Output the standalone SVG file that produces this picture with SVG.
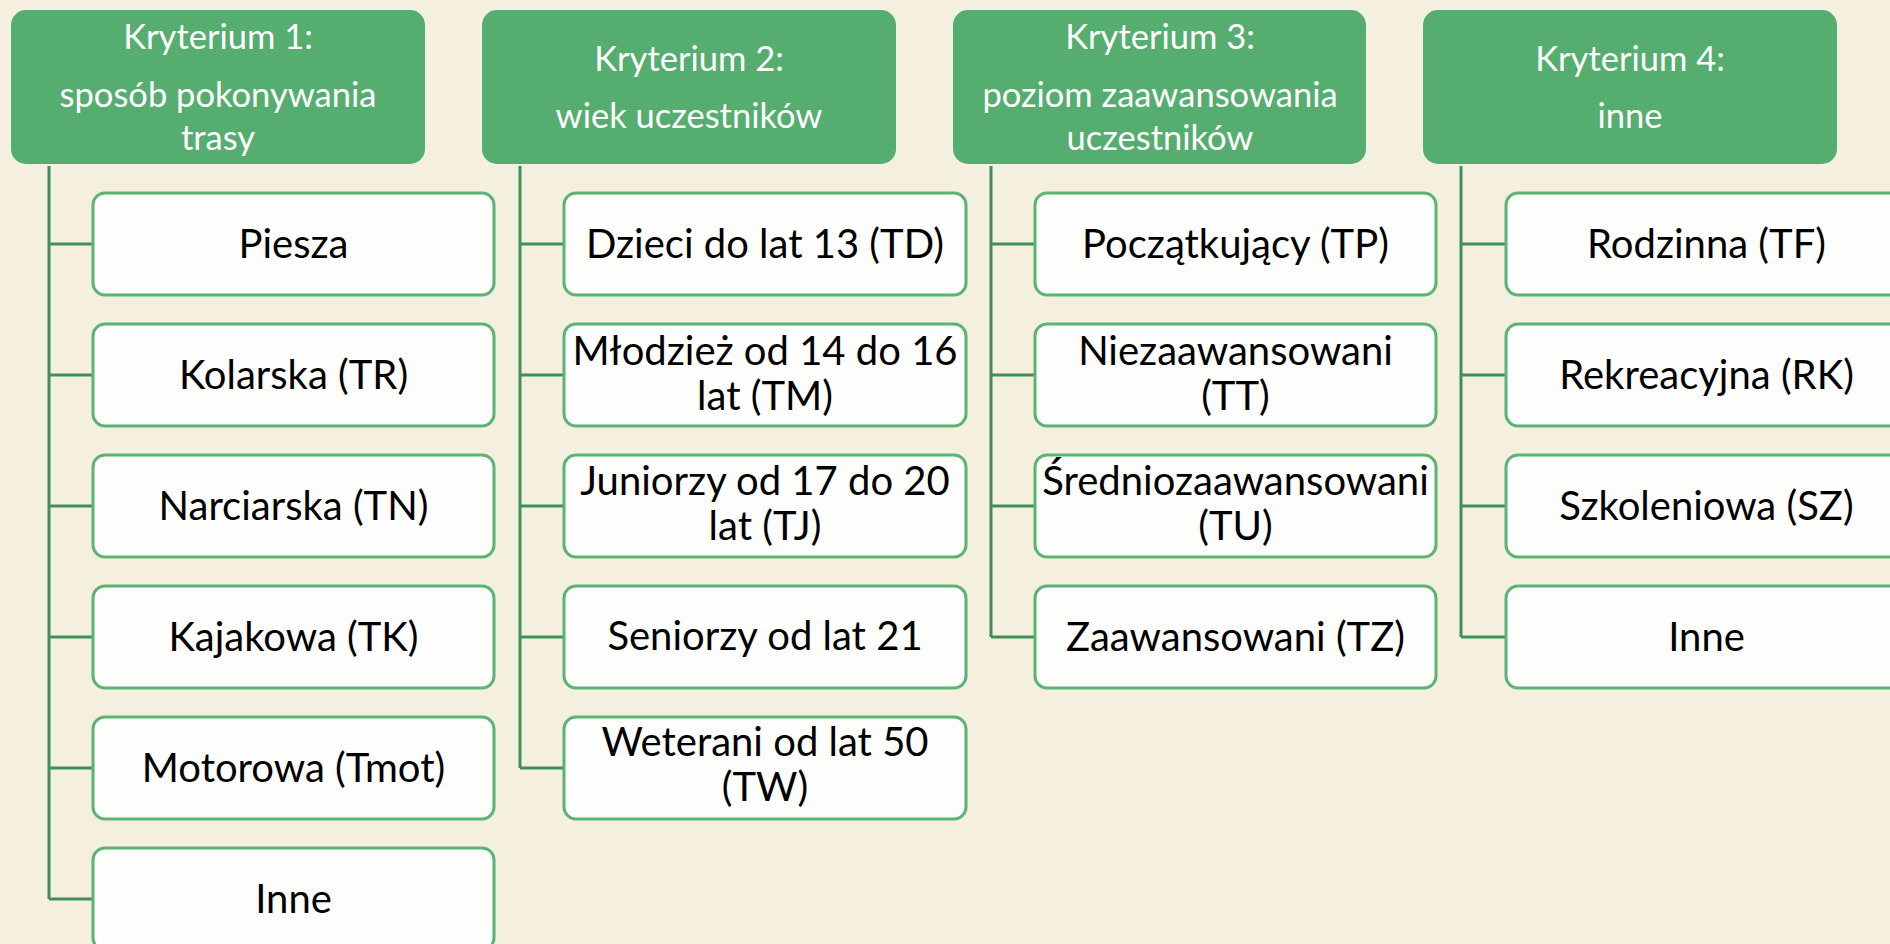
<svg xmlns="http://www.w3.org/2000/svg" width="1890" height="944" viewBox="0 0 1890 944">
<style>
.hd{fill:#55AE6F;stroke:#EEF3E6;stroke-width:2}
.ch{fill:#FDFDFB;stroke:#5BB474;stroke-width:3}
.ht{font-family:Lato,"Open Sans","DejaVu Sans",sans-serif;font-size:34.5px;fill:#FFFFFF;text-anchor:middle}
.ct{font-family:Lato,"Open Sans","DejaVu Sans",sans-serif;font-size:40px;fill:#000000;text-anchor:middle}
.cn{fill:none;stroke:#3F8F58;stroke-width:3}
</style>
<rect x="0" y="0" width="1890" height="944" fill="#F5EFDF"/>
<g id="connectors">
<path class="cn" d="M49 165V899M49 244H93M49 375H93M49 506H93M49 637H93M49 768H93M49 899H93"/>
<path class="cn" d="M520 165V768M520 244H564M520 375H564M520 506H564M520 637H564M520 768H564"/>
<path class="cn" d="M991 165V637M991 244H1035M991 375H1035M991 506H1035M991 637H1035"/>
<path class="cn" d="M1461 165V637M1461 244H1506M1461 375H1506M1461 506H1506M1461 637H1506"/>
</g>
<g id="h1"><rect class="hd" x="10" y="9" width="416" height="156" rx="16"/><text class="ht" x="218" y="49">Kryterium 1:</text><text class="ht" x="218" y="107">sposób pokonywania</text><text class="ht" x="218" y="150">trasy</text></g>
<g id="h2"><rect class="hd" x="481" y="9" width="416" height="156" rx="16"/><text class="ht" x="689" y="71">Kryterium 2:</text><text class="ht" x="689" y="128">wiek uczestników</text></g>
<g id="h3"><rect class="hd" x="952" y="9" width="415" height="156" rx="16"/><text class="ht" x="1160" y="49">Kryterium 3:</text><text class="ht" x="1160" y="107">poziom zaawansowania</text><text class="ht" x="1160" y="150">uczestników</text></g>
<g id="h4"><rect class="hd" x="1422" y="9" width="416" height="156" rx="16"/><text class="ht" x="1630" y="71">Kryterium 4:</text><text class="ht" x="1630" y="128">inne</text></g>

<g id="c1a"><rect class="ch" x="93" y="193" width="401" height="102" rx="12"/><text class="ct" x="293.5" y="258">Piesza</text></g>
<g id="c1b"><rect class="ch" x="93" y="324" width="401" height="102" rx="12"/><text class="ct" x="293.5" y="389">Kolarska (TR)</text></g>
<g id="c1c"><rect class="ch" x="93" y="455" width="401" height="102" rx="12"/><text class="ct" x="293.5" y="520">Narciarska (TN)</text></g>
<g id="c1d"><rect class="ch" x="93" y="586" width="401" height="102" rx="12"/><text class="ct" x="293.5" y="651">Kajakowa (TK)</text></g>
<g id="c1e"><rect class="ch" x="93" y="717" width="401" height="102" rx="12"/><text class="ct" x="293.5" y="782">Motorowa (Tmot)</text></g>
<g id="c1f"><rect class="ch" x="93" y="848" width="401" height="102" rx="12"/><text class="ct" x="293.5" y="913">Inne</text></g>

<g id="c2a"><rect class="ch" x="564" y="193" width="402" height="102" rx="12"/><text class="ct" x="765" y="258">Dzieci do lat 13 (TD)</text></g>
<g id="c2b"><rect class="ch" x="564" y="324" width="402" height="102" rx="12"/><text class="ct" x="765" y="365">Młodzież od 14 do 16</text><text class="ct" x="765" y="410">lat (TM)</text></g>
<g id="c2c"><rect class="ch" x="564" y="455" width="402" height="102" rx="12"/><text class="ct" x="765" y="495">Juniorzy od 17 do 20</text><text class="ct" x="765" y="540">lat (TJ)</text></g>
<g id="c2d"><rect class="ch" x="564" y="586" width="402" height="102" rx="12"/><text class="ct" x="765" y="650">Seniorzy od lat 21</text></g>
<g id="c2e"><rect class="ch" x="564" y="717" width="402" height="102" rx="12"/><text class="ct" x="765" y="756">Weterani od lat 50</text><text class="ct" x="765" y="801">(TW)</text></g>

<g id="c3a"><rect class="ch" x="1035" y="193" width="401" height="102" rx="12"/><text class="ct" x="1235.5" y="258">Początkujący (TP)</text></g>
<g id="c3b"><rect class="ch" x="1035" y="324" width="401" height="102" rx="12"/><text class="ct" x="1235.5" y="365">Niezaawansowani</text><text class="ct" x="1235.5" y="410">(TT)</text></g>
<g id="c3c"><rect class="ch" x="1035" y="455" width="401" height="102" rx="12"/><text class="ct" x="1235.5" y="495">Średniozaawansowani</text><text class="ct" x="1235.5" y="540">(TU)</text></g>
<g id="c3d"><rect class="ch" x="1035" y="586" width="401" height="102" rx="12"/><text class="ct" x="1235.5" y="651">Zaawansowani (TZ)</text></g>

<g id="c4a"><rect class="ch" x="1506" y="193" width="401" height="102" rx="12"/><text class="ct" x="1706.5" y="258">Rodzinna (TF)</text></g>
<g id="c4b"><rect class="ch" x="1506" y="324" width="401" height="102" rx="12"/><text class="ct" x="1706.5" y="389">Rekreacyjna (RK)</text></g>
<g id="c4c"><rect class="ch" x="1506" y="455" width="401" height="102" rx="12"/><text class="ct" x="1706.5" y="520">Szkoleniowa (SZ)</text></g>
<g id="c4d"><rect class="ch" x="1506" y="586" width="401" height="102" rx="12"/><text class="ct" x="1706.5" y="651">Inne</text></g>
</svg>
